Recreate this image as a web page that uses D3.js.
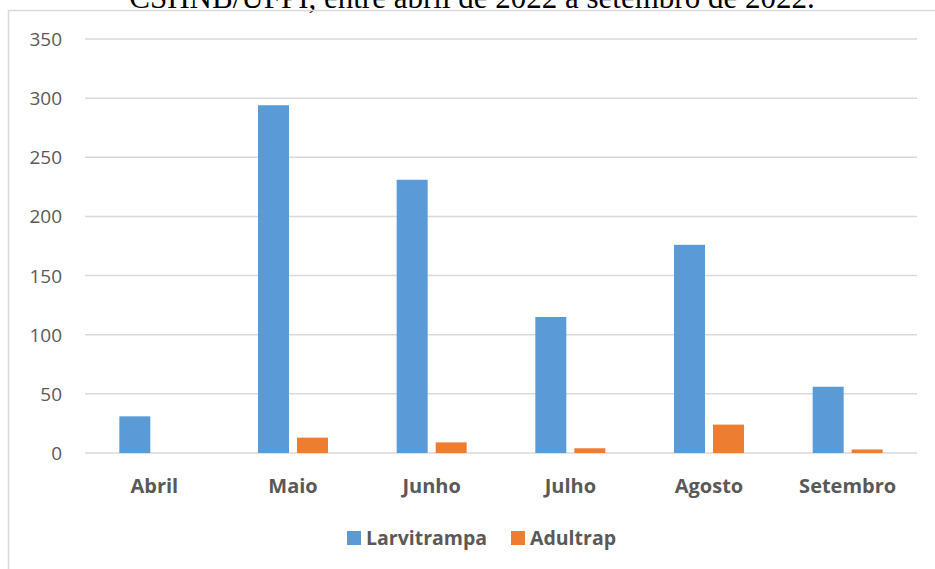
<!DOCTYPE html>
<html>
<head>
<meta charset="utf-8">
<script src="https://cdn.jsdelivr.net/npm/d3@7"></script>
<style>
  body { margin: 0; background: #fff; }
  svg { display: block; }
</style>
</head>
<body>
<div id="main"></div>
<script>
const months = ["Abril", "Maio", "Junho", "Julho", "Agosto", "Setembro"];
const larvitrampa = [31, 294, 231, 115, 176, 56];
const adultrap = [0, 13, 9, 4, 24, 3];
const seriesNames = ["Larvitrampa", "Adultrap"];
const yTicks = [0, 50, 100, 150, 200, 250, 300, 350];

const width = 935;
const height = 569;
const margin = { top: 39, right: 18, bottom: 116, left: 85 };
const colors = ["#5B9BD5", "#ED7D31"];

const svg = d3.select("#main").append("svg")
  .attr("width", width)
  .attr("height", height);

// caption of the figure, clipped at the top as in the source page
svg.append("text")
  .attr("x", 472)
  .attr("y", 8)
  .attr("text-anchor", "middle")
  .attr("font-family", "'Liberation Serif', 'Times New Roman', serif")
  .attr("font-size", 31)
  .attr("fill", "#000")
  .text("CSHNB/UFPI, entre abril de 2022 a setembro de 2022.");

// chart frame
svg.append("rect")
  .attr("x", 8.5)
  .attr("y", 10.5)
  .attr("width", 940)
  .attr("height", 580)
  .attr("fill", "none")
  .attr("stroke", "#D9D9D9")
  .attr("stroke-width", 1.5);

const x = d3.scaleBand()
  .domain(months)
  .range([margin.left, width - margin.right]);

const y = d3.scaleLinear()
  .domain([0, 350])
  .range([height - margin.bottom, margin.top]);

// gridlines
svg.append("g")
  .selectAll("line")
  .data(yTicks)
  .join("line")
  .attr("x1", margin.left)
  .attr("x2", width - margin.right)
  .attr("y1", d => y(d))
  .attr("y2", d => y(d))
  .attr("stroke", "#D9D9D9")
  .attr("stroke-width", 1.5);

// y labels
svg.append("g")
  .selectAll("text")
  .data(yTicks)
  .join("text")
  .attr("x", 62)
  .attr("y", d => y(d) + 7)
  .attr("text-anchor", "end")
  .attr("font-family", "'Open Sans', sans-serif")
  .attr("font-size", 19)
  .attr("fill", "#595959")
  .text(d => d);

const barW = 31;
const gap = 8;
const data = months.map((m, i) => ({ m, vals: [larvitrampa[i], adultrap[i]] }));

data.forEach(d => {
  const cx = x(d.m) + x.bandwidth() / 2;
  d.vals.forEach((v, j) => {
    const x0 = j === 0 ? cx - gap / 2 - barW : cx + gap / 2;
    svg.append("rect")
      .attr("x", x0)
      .attr("y", y(v))
      .attr("width", barW)
      .attr("height", y(0) - y(v))
      .attr("fill", colors[j]);
  });
});

// category labels
svg.append("g")
  .selectAll("text")
  .data(months)
  .join("text")
  .attr("x", d => x(d) + x.bandwidth() / 2)
  .attr("y", 493)
  .attr("text-anchor", "middle")
  .attr("font-family", "'Open Sans', sans-serif")
  .attr("font-weight", "bold")
  .attr("font-size", 20)
  .attr("fill", "#595959")
  .text(d => d);

// legend
const legendX = [347, 511];
const legend = svg.append("g")
  .selectAll("g")
  .data(seriesNames)
  .join("g")
  .attr("transform", (d, i) => `translate(${legendX[i]},531)`);

legend.append("rect")
  .attr("width", 14)
  .attr("height", 14)
  .attr("fill", (d, i) => colors[i]);

legend.append("text")
  .attr("x", 19)
  .attr("y", 14)
  .attr("font-family", "'Open Sans', sans-serif")
  .attr("font-weight", "bold")
  .attr("font-size", 19.5)
  .attr("fill", "#595959")
  .text(d => d);
</script>
</body>
</html>
